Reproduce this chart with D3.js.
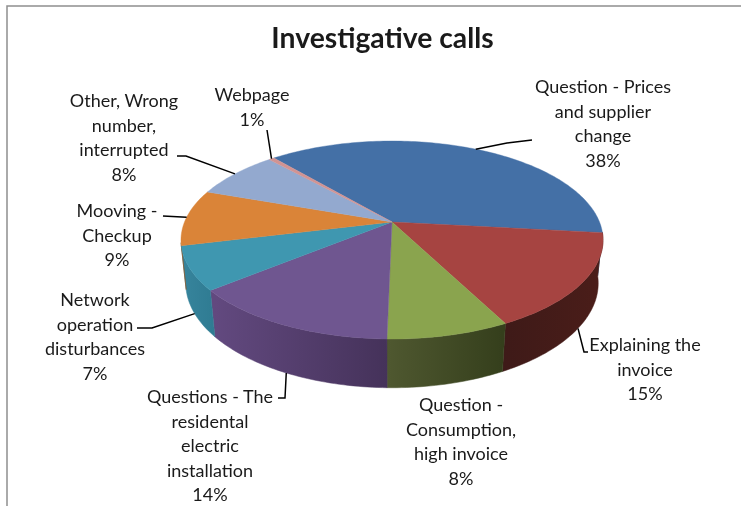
<!DOCTYPE html>
<html>
<head>
<meta charset="utf-8">
<script src="https://cdnjs.cloudflare.com/ajax/libs/d3/7.8.5/d3.min.js"></script>
<style>
  html, body { margin: 0; padding: 0; background: #fff; }
  svg { display: block; filter: blur(0.5px); }
  text { font-family: Lato, "Open Sans", sans-serif; fill: #1a1a1a; }
</style>
</head>
<body>
<div id="chart"></div>
<script>
// slices, clockwise from the blue one
var categories = [
    ["Question - Prices", "and supplier", "change"],
    ["Explaining the", "invoice"],
    ["Question -", "Consumption,", "high invoice"],
    ["Questions - The", "residental", "electric", "installation"],
    ["Network", "operation", "disturbances"],
    ["Mooving -", "Checkup"],
    ["Other, Wrong", "number,", "interrupted"],
    ["Webpage"]
];
var percentLabels = ["38%", "15%", "8%", "14%", "7%", "9%", "8%", "1%"];
var sliceValues = [38, 15.7, 7.9, 13.8, 7.1, 9.2, 7.9, 0.5];

var topColors = ["#4470a6", "#a64441", "#8aa44e", "#6f5690", "#3f97b0", "#da8438", "#93a9cf", "#d19392"];
var wallColors = [
    ["#2c4a6e", "#2c4a6e"], ["#3e1a18", "#4a1d19"], ["#4f5830", "#353f1c"], ["#62497f", "#45325a"],
    ["#36839b", "#2f7b92"], ["#8a5424", "#8a5424"], ["#5f6e87", "#5f6e87"], ["#884f4e", "#884f4e"]
];

// label centre x, first line y, and the bends of the leader line
var labelLayout = [
    {x: 603, y: 93, bends: [[507, 143], [532, 140]]},
    {x: 645, y: 351, bends: [[584, 352], [588, 352]]},
    {x: 461, y: 411, bends: null},
    {x: 210, y: 403, bends: [[285, 398], [278, 398]]},
    {x: 95, y: 306, bends: [[152, 328], [137, 328]]},
    {x: 117, y: 217, bends: [[163, 216]]},
    {x: 124, y: 107, bends: [[186, 156], [177, 156]]},
    {x: 252, y: 101, bends: [[267, 130]]}
];

var width = 741, height = 506;
var centerX = 392, centerY = 222;
var lineStep = 24.5;

// the pie lies tilted and seen in perspective, u/v are on the unit disc
var tiltK = 0.182, floorShift = 0.0225;
var xScale = d3.scaleLinear().domain([-1, 1]).range([centerX - 207.5, centerX + 207.5]);
var yScale = d3.scaleLinear().domain([-1, 1]).range([centerY - 95.7, centerY + 95.7]);
var depth = 43.6;

// wall is only seen between these angles (degrees, clockwise from top)
var wallFrom = 96 * Math.PI / 180, wallTo = 258 * Math.PI / 180;

function project(a, r, bottom) {
    var u = Math.sin(a) * r, v = -Math.cos(a) * r;
    var w = 1 - tiltK * v + (bottom ? floorShift : 0);
    return [
        centerX + (xScale(u) - centerX) / w,
        centerY + (yScale(v) - centerY + (bottom ? depth : 0)) / w
    ];
}

var startAngle = -40.4 * Math.PI / 180;
var pie = d3.pie().sort(null)
    .startAngle(startAngle)
    .endAngle(startAngle + 2 * Math.PI);
var arcs = pie(sliceValues);

function rimAngles(a0, a1) {
    var n = Math.max(2, Math.ceil((a1 - a0) / 0.02));
    return d3.range(n + 1).map(function (i) { return a0 + (a1 - a0) * i / n; });
}

var line = d3.line();

var svg = d3.select("#chart")
    .append("svg")
    .attr("width", width)
    .attr("height", height);

svg.append("rect").attr("width", width).attr("height", height).attr("fill", "#fff");

// frame of the pasted chart, only top and left show
svg.append("path")
    .attr("d", line([[7, height], [7, 6], [width, 6]]))
    .attr("fill", "none")
    .attr("stroke", "#8f8f8f")
    .attr("stroke-width", 1.5);

var defs = svg.append("defs");

// walls
var walls = arcs.map(function (d, i) {
    var a0 = Math.max(d.startAngle, wallFrom), a1 = Math.min(d.endAngle, wallTo);
    return {i: i, a0: a0, a1: a1};
}).filter(function (d) { return d.a1 > d.a0; });

walls.forEach(function (d) {
    var left = project(d.a0, 1, true)[0], right = project(d.a1, 1, true)[0];
    var grad = defs.append("linearGradient")
        .attr("id", "wall" + d.i)
        .attr("gradientUnits", "userSpaceOnUse")
        .attr("x1", Math.min(left, right)).attr("x2", Math.max(left, right))
        .attr("y1", 0).attr("y2", 0);
    grad.append("stop").attr("offset", 0).attr("stop-color", wallColors[d.i][0]);
    grad.append("stop").attr("offset", 1).attr("stop-color", wallColors[d.i][1]);
});

svg.append("g").selectAll("path")
    .data(walls)
    .enter()
    .append("path")
    .attr("d", function (d) {
        var angles = rimAngles(d.a0, d.a1);
        var upper = angles.map(function (a) { return project(a, 1, false); });
        var lower = angles.slice().reverse().map(function (a) { return project(a, 1, true); });
        return line(upper.concat(lower)) + "Z";
    })
    .attr("fill", function (d) { return "url(#wall" + d.i + ")"; })
    .attr("stroke", function (d) { return "url(#wall" + d.i + ")"; })
    .attr("stroke-width", 0.5);

// top face
svg.append("g").selectAll("path")
    .data(arcs)
    .enter()
    .append("path")
    .attr("d", function (d) {
        var rim = rimAngles(d.startAngle, d.endAngle).map(function (a) { return project(a, 1, false); });
        return line([[centerX, centerY]].concat(rim)) + "Z";
    })
    .attr("fill", function (d, i) { return topColors[i]; })
    .attr("stroke", function (d, i) { return topColors[i]; })
    .attr("stroke-width", 0.4);

// leader lines start on the rim at the middle of the slice
svg.append("g").selectAll("path")
    .data(arcs.filter(function (d, i) { return labelLayout[i].bends; }))
    .enter()
    .append("path")
    .attr("d", function (d) {
        var mid = (d.startAngle + d.endAngle) / 2;
        var onWall = mid > wallFrom && mid < wallTo;
        return line([project(mid, 1, onWall)].concat(labelLayout[d.index].bends));
    })
    .attr("fill", "none")
    .attr("stroke", "#000")
    .attr("stroke-width", 1.5);

// labels
var labels = svg.append("g").selectAll("text")
    .data(categories)
    .enter()
    .append("text")
    .attr("text-anchor", "middle")
    .attr("font-size", 18)
    .attr("y", function (d, i) { return labelLayout[i].y; });

labels.selectAll("tspan")
    .data(function (d, i) { return d.concat(percentLabels[i]); })
    .enter()
    .append("tspan")
    .attr("x", function () { return labelLayout[categories.indexOf(d3.select(this.parentNode).datum())].x; })
    .attr("dy", function (d, i) { return i ? lineStep : 0; })
    .text(function (d) { return d; });

svg.append("text")
    .attr("x", 382.5)
    .attr("y", 48)
    .attr("text-anchor", "middle")
    .attr("font-size", 28.3)
    .attr("font-weight", 700)
    .attr("fill", "#000")
    .text("Investigative calls");
</script>
</body>
</html>
